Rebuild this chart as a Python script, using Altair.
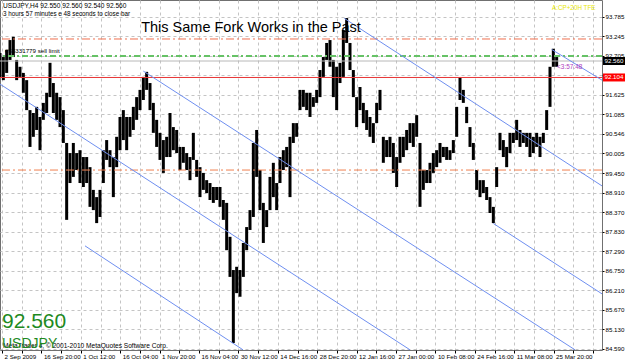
import json
import altair as alt
import pandas as pd

# ---------------- data ----------------
highs = [92.78, 92.67, 92.87, 93.14, 93.23, 92.59, 92.40, 92.23, 92.03, 91.20, 91.12, 91.29, 91.01, 91.40, 91.68, 92.51, 91.95, 91.68, 91.56, 91.20,
         90.29, 90.01, 90.29, 90.01, 90.09, 89.90, 89.90, 89.62, 88.99, 88.79, 88.99, 90.09, 90.37, 90.09, 89.90,
         90.46, 91.01, 91.20, 91.01, 91.01, 91.29, 91.56, 91.76, 92.12, 92.26, 91.95, 91.40, 90.93, 90.57, 90.37, 90.46, 91.12, 90.73, 90.65, 90.18,
         90.18, 90.01, 89.90, 90.57, 89.82, 89.62, 89.46, 89.26, 89.18, 89.07, 89.07, 89.07, 88.71,
         88.63, 87.69, 86.77, 86.86, 86.77, 87.52, 87.96, 88.43, 90.29, 90.65, 89.54, 88.63, 88.43, 89.35, 89.74, 89.18, 89.90, 90.09, 90.18, 90.46,
         90.84, 90.84, 91.76, 91.76, 91.68, 91.68, 91.56, 91.76, 92.31, 92.67, 93.06, 93.14, 92.59,
         92.40, 92.51, 93.42, 93.75, 93.06, 92.31, 91.56, 91.84, 91.40, 91.20, 91.01, 90.84, 91.40, 91.76, 90.46, 90.37, 90.46, 90.29, 89.90, 90.46,
         90.46, 90.65, 90.84, 90.84, 91.06, 90.29, 89.54, 89.54, 89.74, 90.01, 90.09, 90.29, 90.18,
         90.18, 90.09, 90.37, 91.29, 92.09, 91.76, 91.29, 90.73, 90.29, 89.54, 89.26, 89.26, 89.07, 88.79, 88.52, 89.62, 90.57, 90.37, 90.18, 90.57,
         90.57, 90.93, 90.65, 90.57, 90.57, 90.57, 90.46, 90.57, 90.46, 90.57, 91.20, 92.40, 92.90, 92.67]
lows = [92.12, 92.03, 92.23, 92.59, 92.67, 92.03, 92.12, 91.68, 91.20, 90.18, 90.46, 90.65, 90.09, 90.93, 91.12, 91.56, 91.12, 90.93, 90.73, 90.29,
        88.16, 89.18, 89.35, 89.54, 89.18, 89.07, 89.18, 88.52, 88.43, 88.07, 88.24, 89.18, 89.82, 89.62, 88.79,
        89.62, 90.09, 90.37, 90.09, 90.46, 90.65, 90.93, 91.20, 91.48, 91.76, 91.20, 90.57, 90.18, 89.82, 89.46, 89.90, 89.90, 90.09, 90.01, 89.54,
        89.74, 89.54, 89.26, 89.82, 89.35, 88.79, 88.99, 88.90, 88.71, 88.63, 88.71, 88.52, 88.16,
        87.32, 86.58, 84.75, 86.13, 86.03, 86.58, 87.32, 87.88, 88.24, 89.35, 88.43, 87.52, 87.96, 88.43, 88.79, 88.43, 89.18, 89.54, 89.62, 88.79,
        90.29, 90.46, 91.20, 91.29, 91.20, 91.01, 91.29, 91.40, 91.56, 92.12, 92.59, 92.40, 91.56,
        91.20, 91.95, 92.12, 93.06, 92.31, 91.56, 90.73, 91.20, 90.84, 90.65, 90.46, 90.29, 90.84, 91.20, 89.74, 89.90, 89.90, 89.46, 89.07, 89.74,
        89.90, 90.09, 90.29, 90.18, 90.46, 88.52, 88.99, 89.18, 89.18, 89.46, 89.62, 89.74, 89.90,
        89.82, 89.82, 90.01, 90.46, 91.48, 91.40, 90.84, 90.18, 89.82, 88.99, 88.79, 88.90, 88.71, 88.35, 88.07, 89.07, 90.09, 89.90, 89.62, 90.01,
        90.29, 90.37, 90.18, 90.29, 90.18, 89.90, 90.01, 90.18, 89.90, 90.29, 90.65, 91.29, 92.40, 92.40]

date_labels = ["2 Sep 2009", "16 Sep 20:00", "1 Oct 12:00", "16 Oct 04:00", "1 Nov 20:00", "16 Nov 04:00",
               "30 Nov 12:00", "14 Dec 16:00", "28 Dec 20:00", "12 Jan 16:00", "27 Jan 00:00", "10 Feb 08:00",
               "24 Feb 16:00", "11 Mar 08:00", "25 Mar 20:00"]
price_ticks = [93.785, 93.245, 92.705, 92.165, 91.625, 91.085, 90.546, 90.005, 89.450, 88.910,
               88.370, 87.830, 87.290, 86.750, 86.210, 85.670, 85.130, 84.590]

# pitchfork lines (bar-sample position, price)
pf_line = ["A", "A", "B", "B", "C", "C", "D", "D", "E", "E", "F", "F"]
pf_x = [0, 123.0, 43.0, 172.5, 103.3, 180.6, 165.5, 180.6, 148.0, 180.6, 25.5, 72.9]
pf_p = [91.92, 84.56, 92.28, 84.56, 93.74, 89.10, 92.88, 92.03, 88.06, 86.11, 87.44, 84.56]

# horizontal levels
sell_limit_upper = [93.17]
sell_limit = [92.70]
bid_price = [92.56]
red_level = [92.104]
lower_level = [89.54]

# ---------------- chart ----------------
W, H = 602, 350
xs = alt.Scale(domain=[0, 180.6], nice=False, zero=False)
ys = alt.Scale(domain=[84.555, 94.25], nice=False, zero=False)
FONT = "Liberation Sans"

df = pd.DataFrame({"i": list(range(len(highs))), "high": highs, "low": lows})

grid_x_vals = [round(0.6 + k * 5.91, 3) for k in range(31)]
labels_full = []
for d in date_labels:
    labels_full += [d, ""]
labels_full.append("")
label_expr = json.dumps(labels_full) + "[round((datum.value-0.6)/5.91)]"

x_axis = alt.Axis(values=grid_x_vals, labelExpr=label_expr, title=None, grid=True,
                  gridDash=[3, 3], gridColor="#c4c4c4", domain=False, tickColor="#000",
                  tickSize=3, labelAlign="left", labelBaseline="top", labelPadding=0,
                  labelOffset=2, labelFontSize=6.2, labelColor="#000", labelFont=FONT,
                  labelOverlap=False, labelBound=False, labelFlush=False, labelSeparation=0)
y_axis = alt.Axis(orient="right", values=price_ticks, format=".3f", title=None, grid=True,
                  gridDash=[3, 3], gridColor="#c4c4c4", domain=False, tickColor="#000",
                  tickSize=2, labelPadding=1, labelFontSize=6.2, labelColor="#000",
                  labelFont=FONT, labelOverlap=False, labelBound=False, labelFlush=False,
                  labelSeparation=0, zindex=0)


def X(field):
    return alt.X(field, scale=xs, axis=x_axis, title=None)


def Y(field):
    return alt.Y(field, scale=ys, axis=y_axis, title=None)


bars = alt.Chart(df).mark_rule(color="#000000", strokeWidth=3.0).encode(
    x=X("i:Q"), y=Y("low:Q"), y2="high:Q")


def level(vals, color, width=1, dash=None):
    kw = dict(color=color, strokeWidth=width)
    if dash:
        kw["strokeDash"] = dash
    return alt.Chart(pd.DataFrame({"p": vals})).mark_rule(**kw).encode(y=Y("p:Q"))


levels = [
    level(sell_limit_upper, "#f0704f", 1, [8, 3, 2, 3]),
    level(sell_limit, "#66c266", 2, [6, 3, 2, 3]),
    level(bid_price, "#b8b8b8", 1),
    level(red_level, "#e83535", 1),
    level(lower_level, "#f0804f", 1, [8, 3, 2, 3]),
]

pf = alt.Chart(pd.DataFrame({"line": pf_line, "x": pf_x, "p": pf_p})).mark_line(
    color="#6f8ff0", strokeWidth=1).encode(x=X("x:Q"), y=Y("p:Q"), detail="line:N")


def txt(s, x, y, size, color="#000", weight="normal", align="left", baseline="middle"):
    return alt.Chart(pd.DataFrame({"t": [s]})).mark_text(
        fontSize=size, color=color, font=FONT, fontWeight=weight, align=align,
        baseline=baseline).encode(text="t:N", x=alt.value(x), y=alt.value(y))


texts = [
    txt("USDJPY,H4  92.550 92.560 92.540 92.560", 3, 5.5, 6.6),
    txt("3 hours 57 minutes e 48 seconds to close bar", 3, 14, 6.3),
    txt("This Same Fork Works in the Past", 251, 28, 14.5, align="center"),
    txt("#55331779 sell limit", 5, 51, 6.2),
    txt("A:CP+20H TFE", 552, 8, 6.3, color="#e8e800"),
    txt("<3:57:48", 557, 66.5, 6.5, color="#b040c0"),
    txt("92.560", 2, 328, 21, color="#1e8a1e", baseline="alphabetic"),
    txt("MetaTrader 4, \u00a9 2001-2010 MetaQuotes Software Corp.", 3, 345.5, 6.6),
    txt("USDJPY", 2, 348, 14, color="#1e8a1e", baseline="alphabetic"),
]

box_bid = alt.Chart(pd.DataFrame({"p": bid_price, "t": ["92.560"]}))
box_red = alt.Chart(pd.DataFrame({"p": red_level, "t": ["92.104"]}))
boxes = [
    box_bid.mark_rule(color="#000000", strokeWidth=8).encode(
        y=Y("p:Q"), x=alt.value(603), x2=alt.value(625)),
    box_bid.mark_text(color="#ffffff", fontSize=6.2, font=FONT, align="left").encode(
        y=Y("p:Q"), x=alt.value(604.5), text="t:N"),
    box_red.mark_rule(color="#ff0000", strokeWidth=8).encode(
        y=Y("p:Q"), x=alt.value(603), x2=alt.value(625)),
    box_red.mark_text(color="#ffffff", fontSize=6.2, font=FONT, align="left").encode(
        y=Y("p:Q"), x=alt.value(604.5), text="t:N"),
]

chart = alt.layer(bars, *levels, pf, *texts, *boxes).properties(
    width=W, height=H,
    autosize=alt.AutoSizeParams(type="none"),
    padding={"left": 0, "top": 0, "right": 23, "bottom": 13},
    background="#ffffff",
).configure_view(stroke="#707070", strokeWidth=1).configure_axis(labelOverlap=False)

chart.save("out.html", embed_options={"renderer": "svg", "actions": False})
